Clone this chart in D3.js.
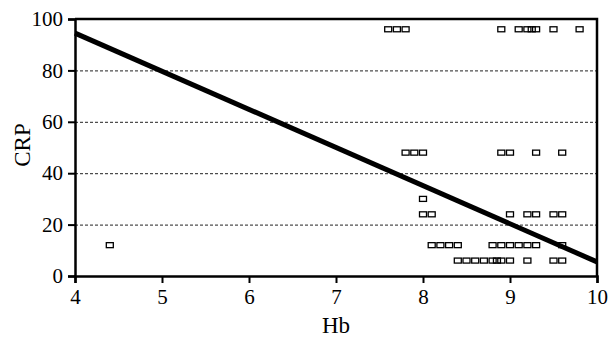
<!DOCTYPE html>
<html>
<head>
<meta charset="utf-8">
<script src="https://cdn.jsdelivr.net/npm/d3@7"></script>
<style>
  body { margin: 0; background: #fff; }
  svg { display: block; font-family: "Liberation Serif", "DejaVu Serif", serif; }
</style>
</head>
<body>
<svg id="chart"></svg>
<script>
// Hb / CRP pairs, one row per CRP level
const hbValues = [
  7.6, 7.7, 7.8, 8.9, 9.1, 9.2, 9.25, 9.3, 9.5, 9.8,
  7.8, 7.9, 8.0, 8.9, 9.0, 9.3, 9.6,
  8.0,
  8.0, 8.1, 9.0, 9.2, 9.3, 9.5, 9.6,
  4.4, 8.1, 8.2, 8.3, 8.4, 8.8, 8.9, 9.0, 9.1, 9.2, 9.3, 9.6,
  8.4, 8.5, 8.6, 8.7, 8.8, 8.85, 8.9, 9.0, 9.2, 9.5, 9.6
];
const crpValues = [
  96, 96, 96, 96, 96, 96, 96, 96, 96, 96,
  48, 48, 48, 48, 48, 48, 48,
  30,
  24, 24, 24, 24, 24, 24, 24,
  12, 12, 12, 12, 12, 12, 12, 12, 12, 12, 12, 12,
  6, 6, 6, 6, 6, 6, 6, 6, 6, 6, 6
];
// fitted line end points
const fitHb = [4, 10];
const fitCrp = [94.5, 5.5];

const xTicks = [4, 5, 6, 7, 8, 9, 10];
const yTicks = [0, 20, 40, 60, 80, 100];
const gridTicks = [20, 40, 60, 80];

const points = hbValues.map((d, i) => ({ hb: d, crp: crpValues[i] }));
const fit = fitHb.map((d, i) => ({ hb: d, crp: fitCrp[i] }));

const margin = { top: 19, right: 13, bottom: 63, left: 75 },
  width = 610 - margin.left - margin.right,
  height = 339 - margin.top - margin.bottom;

const svg = d3.select("#chart").attr("width", 610).attr("height", 339);
const g = svg.append("g").attr("transform", `translate(${margin.left},${margin.top})`);

const x = d3.scaleLinear().domain([4, 10]).range([0, width]);
const y = d3.scaleLinear().domain([0, 100]).range([height, 0]);

// dashed grid
g.selectAll(".grid")
  .data(gridTicks)
  .enter()
  .append("line")
  .attr("x1", 0)
  .attr("x2", width)
  .attr("y1", (d) => y(d) + 0.5)
  .attr("y2", (d) => y(d) + 0.5)
  .attr("stroke", "#222")
  .attr("stroke-width", 1)
  .attr("stroke-dasharray", "3,2");

// points
g.selectAll(".pt")
  .data(points)
  .enter()
  .append("rect")
  .attr("x", (d) => x(d.hb) - 3.5)
  .attr("y", (d) => y(d.crp) - 2.5)
  .attr("width", 7)
  .attr("height", 5)
  .attr("fill", "none")
  .attr("stroke", "#000")
  .attr("stroke-width", 1.3);

// regression line
const line = d3.line().x((d) => x(d.hb)).y((d) => y(d.crp));
g.append("path")
  .datum(fit)
  .attr("fill", "none")
  .attr("stroke", "#000")
  .attr("stroke-width", 5)
  .attr("d", line);

// frame (top and right)
g.append("path")
  .attr("d", `M0,${y(100)}H${width}V${height}`)
  .attr("fill", "none")
  .attr("stroke", "#000")
  .attr("stroke-width", 2.5);

const xAxis = g.append("g")
  .attr("transform", `translate(0,${height})`)
  .call(d3.axisBottom(x).tickValues(xTicks).tickFormat(d3.format("d")).tickSize(7).tickPadding(6));
const yAxis = g.append("g")
  .call(d3.axisLeft(y).tickValues(yTicks).tickSize(7).tickPadding(5));

[xAxis, yAxis].forEach((a) => {
  a.select(".domain").attr("stroke-width", 2.5);
  a.selectAll(".tick line").attr("stroke-width", 2);
  a.selectAll("text").attr("font-size", 21).attr("font-family", "Liberation Serif").attr("fill", "#000");
});

svg.append("text")
  .attr("x", margin.left + width / 2)
  .attr("y", 333)
  .attr("text-anchor", "middle")
  .attr("font-size", 23)
  .text("Hb");

svg.append("text")
  .attr("transform", `translate(30,145) rotate(-90)`)
  .attr("text-anchor", "middle")
  .attr("font-size", 23)
  .text("CRP");
</script>
</body>
</html>
